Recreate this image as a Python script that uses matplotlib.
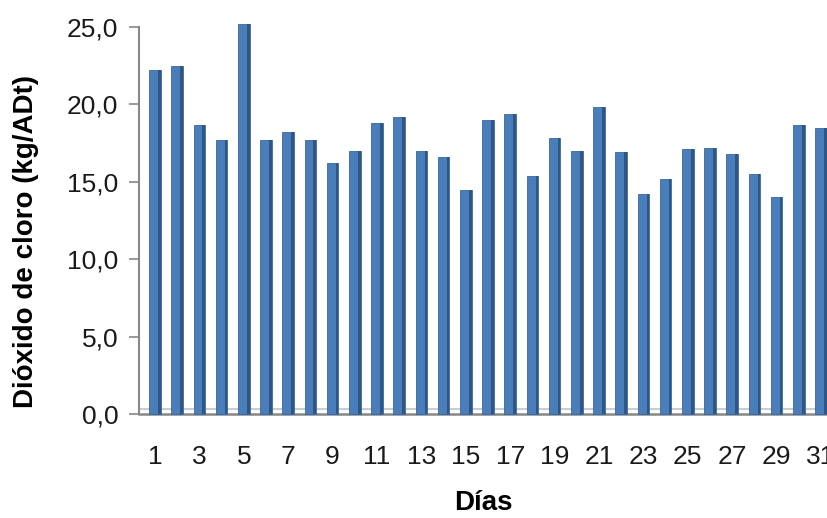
import numpy as np
import matplotlib.pyplot as plt

plt.rcParams["font.family"] = ["Liberation Sans", "DejaVu Sans"]

dias = list(range(1, 32))
dioxido = [22.2, 22.5, 18.7, 17.7, 25.2, 17.7, 18.2, 17.7, 16.2, 17.0,
           18.8, 19.2, 17.0, 16.6, 14.5, 19.0, 19.4, 15.4, 17.8, 17.0,
           19.8, 16.9, 14.2, 15.2, 17.1, 17.2, 16.8, 15.5, 14.0, 18.7, 18.5]
yticks = [0, 5, 10, 15, 20, 25]
ytick_labels = ["0,0", "5,0", "10,0", "15,0", "20,0", "25,0"]
xtick_days = dias[::2]

W, H = 828, 518
fig = plt.figure(figsize=(W / 100, H / 100), dpi=100)
ax = fig.add_axes([139 / W, 104 / H, 698 / W, 387 / H])

# bars with a darker strip on the right for the 3D look
x = np.array(dias)
bars = ax.bar(x, dioxido, width=0.52, color="#4a7ebb", edgecolor="#3a679d",
              linewidth=0.6, zorder=3)
shade = ax.bar(x + 0.2, dioxido, width=0.12, color="#2f5684", linewidth=0,
               zorder=4)
for b in list(bars) + list(shade):
    b.set_clip_on(False)

ax.set_xlim(0.28, 31.72)
ax.set_ylim(0, 25)
ax.set_yticks(yticks)
ax.set_yticklabels(ytick_labels, fontsize=19, color="#1a1a1a")
ax.set_xticks(xtick_days)
ax.set_xticklabels([str(d) for d in xtick_days], fontsize=19, color="#1a1a1a")
ax.tick_params(axis="x", length=0, pad=22)
ax.tick_params(axis="y", length=7, width=1.2, color="#888888", pad=8)

for side in ["top", "right"]:
    ax.spines[side].set_visible(False)
ax.spines["left"].set_color("#888888")
ax.spines["bottom"].set_color("#888888")
ax.spines["left"].set_linewidth(1.5)
ax.spines["bottom"].set_linewidth(1.8)
ax.axhline(0.3, color="#cccccc", linewidth=1.5, zorder=2)

fig.text(26 / W, 1 - 242 / H, "Dióxido de cloro (kg/ADt)", fontsize=20,
         fontweight="bold", rotation=90, ha="center", va="center")
fig.text(483 / W, 1 - 503 / H, "Días", fontsize=20, fontweight="bold",
         ha="center", va="center")

fig.savefig("out.png", dpi=100)
